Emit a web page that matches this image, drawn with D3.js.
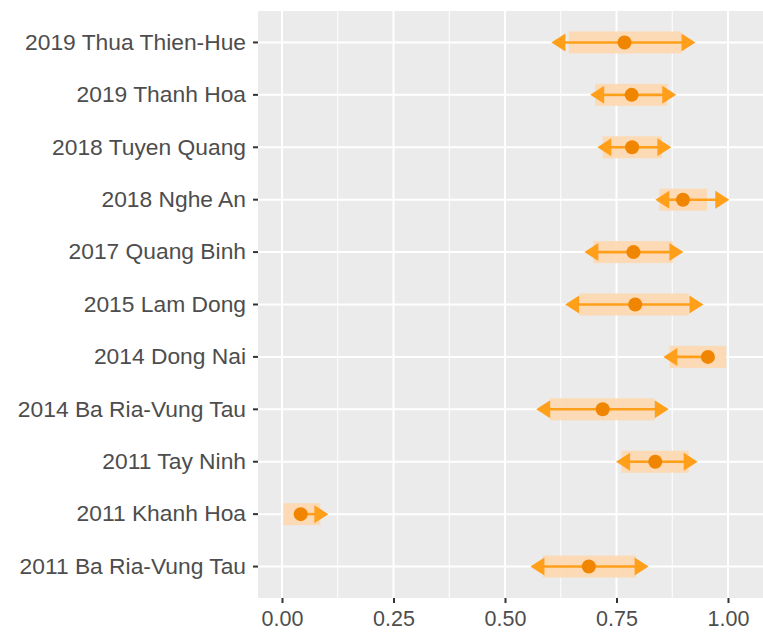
<!DOCTYPE html>
<html>
<head>
<meta charset="utf-8">
<script src="https://cdn.jsdelivr.net/npm/d3@7"></script>
<style>
  body { margin: 0; background: #fff; }
  text { font-family: "Liberation Sans", Arial, sans-serif; }
</style>
</head>
<body>
<svg id="chart"></svg>
<script>
// rows from top to bottom
const sites = [
    '2019 Thua Thien-Hue',
    '2019 Thanh Hoa',
    '2018 Tuyen Quang',
    '2018 Nghe An',
    '2017 Quang Binh',
    '2015 Lam Dong',
    '2014 Dong Nai',
    '2014 Ba Ria-Vung Tau',
    '2011 Tay Ninh',
    '2011 Khanh Hoa',
    '2011 Ba Ria-Vung Tau'
]
const estimate = [0.768, 0.784, 0.785, 0.899, 0.788, 0.792, 0.955, 0.719, 0.837, 0.042, 0.688]
const innerLow = [0.643, 0.702, 0.719, 0.846, 0.698, 0.667, 0.869, 0.601, 0.761, 0.003, 0.585]
const innerHigh = [0.895, 0.864, 0.852, 0.953, 0.876, 0.912, 0.996, 0.835, 0.912, 0.086, 0.794]
const outerLow = [0.604, 0.691, 0.707, 0.837, 0.678, 0.635, 0.855, 0.570, 0.749, 0.042, 0.557]
const outerHigh = [0.927, 0.884, 0.873, 1.003, 0.900, 0.945, 0.955, 0.867, 0.932, 0.104, 0.822]
const xTicks = [0, 0.25, 0.5, 0.75, 1]

const width = 763
const height = 633
const margin = { top: 11, right: 0, bottom: 35, left: 258 }

const svg = d3.select('#chart').attr('width', width).attr('height', height)

const xScale = d3.scaleLinear()
    .domain([-0.0538, 1.0785])
    .range([margin.left, width - margin.right])

const yScale = d3.scaleBand()
    .domain(sites)
    .range([margin.top, height - margin.bottom])
    .paddingOuter(0.1)

const rows = sites.map((s, i) => ({
    site: s,
    est: estimate[i],
    lo: innerLow[i],
    hi: innerHigh[i],
    lo2: outerLow[i],
    hi2: outerHigh[i]
}))

// panel
svg.append('rect')
    .attr('x', margin.left)
    .attr('y', margin.top)
    .attr('width', width - margin.left - margin.right)
    .attr('height', height - margin.top - margin.bottom)
    .attr('fill', '#ebebeb')

// minor grid
const minor = xTicks.slice(0, -1).map((t) => t + 0.125)
svg.append('g').selectAll('line')
    .data(minor)
    .enter()
    .append('line')
    .attr('x1', (d) => xScale(d))
    .attr('x2', (d) => xScale(d))
    .attr('y1', margin.top)
    .attr('y2', height - margin.bottom)
    .attr('stroke', '#fff')
    .attr('stroke-width', 1)

// major grid
svg.append('g').selectAll('line')
    .data(xTicks)
    .enter()
    .append('line')
    .attr('x1', (d) => xScale(d))
    .attr('x2', (d) => xScale(d))
    .attr('y1', margin.top)
    .attr('y2', height - margin.bottom)
    .attr('stroke', '#fff')
    .attr('stroke-width', 2)

svg.append('g').selectAll('line')
    .data(sites)
    .enter()
    .append('line')
    .attr('x1', margin.left)
    .attr('x2', width - margin.right)
    .attr('y1', (d) => yScale(d) + yScale.bandwidth() / 2)
    .attr('y2', (d) => yScale(d) + yScale.bandwidth() / 2)
    .attr('stroke', '#fff')
    .attr('stroke-width', 2)

const cy = (d) => yScale(d.site) + yScale.bandwidth() / 2

// inner interval boxes
svg.append('g').selectAll('rect')
    .data(rows)
    .enter()
    .append('rect')
    .attr('x', (d) => xScale(d.lo))
    .attr('y', (d) => cy(d) - 11)
    .attr('width', (d) => xScale(d.hi) - xScale(d.lo))
    .attr('height', 22)
    .attr('fill', '#fdd9b2')
    .attr('opacity', 0.95)

// arrows from estimate to each outer bound
const headLen = 14
const headHalf = 9
const arrowColor = '#ff9f1a'
const segs = []
rows.forEach((d) => {
    if (d.lo2 < d.est) segs.push({ y: cy(d), from: d.est, to: d.lo2 })
    if (d.hi2 > d.est) segs.push({ y: cy(d), from: d.est, to: d.hi2 })
})

const arrows = svg.append('g')
arrows.selectAll('line')
    .data(segs)
    .enter()
    .append('line')
    .attr('x1', (d) => xScale(d.from))
    .attr('x2', (d) => {
        const dir = Math.sign(xScale(d.to) - xScale(d.from))
        return xScale(d.to) - dir * (headLen - 2)
    })
    .attr('y1', (d) => d.y)
    .attr('y2', (d) => d.y)
    .attr('stroke', arrowColor)
    .attr('stroke-width', 2.6)

arrows.selectAll('path')
    .data(segs)
    .enter()
    .append('path')
    .attr('d', (d) => {
        const tip = xScale(d.to)
        const dir = Math.sign(tip - xScale(d.from))
        const base = tip - dir * headLen
        return 'M' + tip + ',' + d.y + 'L' + base + ',' + (d.y - headHalf) +
            'L' + base + ',' + (d.y + headHalf) + 'Z'
    })
    .attr('fill', arrowColor)

// points
svg.append('g').selectAll('circle')
    .data(rows)
    .enter()
    .append('circle')
    .attr('cx', (d) => xScale(d.est))
    .attr('cy', cy)
    .attr('r', 7)
    .attr('fill', '#ef8500')

// axes
const xAxis = svg.append('g')
    .attr('transform', 'translate(0,' + (height - margin.bottom) + ')')
    .call(d3.axisBottom(xScale).tickValues(xTicks).tickFormat(d3.format('.2f')).tickSize(5).tickPadding(8))
xAxis.select('.domain').remove()
xAxis.selectAll('line').attr('stroke', '#333').attr('stroke-width', 2)
xAxis.selectAll('text').attr('fill', '#4d4d4d').style('font-size', '21.5px')

const yAxis = svg.append('g')
    .attr('transform', 'translate(' + margin.left + ',0)')
    .call(d3.axisLeft(yScale).tickSize(5).tickPadding(7))
yAxis.select('.domain').remove()
yAxis.selectAll('line').attr('stroke', '#333').attr('stroke-width', 2)
yAxis.selectAll('text').attr('fill', '#4d4d4d').style('font-size', '22.8px')
</script>
</body>
</html>
